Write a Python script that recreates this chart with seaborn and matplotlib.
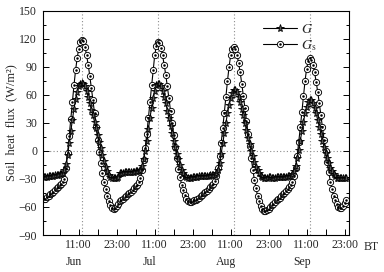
"""Soil heat flux diurnal cycles, Jun-Sep: measured G vs surface Gs."""

import numpy as np
import pandas as pd
import matplotlib

matplotlib.use("Agg")
import matplotlib.pyplot as plt  # noqa: E402
import matplotlib.transforms as mtransforms  # noqa: E402
import seaborn as sns  # noqa: E402
from matplotlib.lines import Line2D  # noqa: E402
from matplotlib.ticker import FixedLocator, MultipleLocator  # noqa: E402

MONTHS = ["Jun", "Jul", "Aug", "Sep"]
TICK_TEXT = ["11:00", "23:00"]

# half-hourly composite day per month (W/m2), rows = 0-5.5h, 6-11.5h, 12-17.5h, 18-23.5h
GS_JUN = [-52, -51, -49.5, -48, -46.5, -45, -43.5, -42, -40, -38.5, -37, -35,
          -33, -30, -18, -2, 16, 34, 52, 70, 86, 99, 109, 116,
          119, 117, 111, 102, 92, 80, 67, 54, 40, 26, 12, -1,
          -13, -24, -33, -41, -48, -54, -58, -61, -62, -61, -59, -57]
G_JUN = [-28, -28, -27.5, -27, -27, -26.5, -26.5, -26, -26, -25.5, -25, -24.5,
         -24, -21, -14, -4, 8, 21, 33, 45, 55, 63, 69, 72,
         73, 72, 69, 64, 58, 51, 44, 38, 31, 24, 17, 10,
         3, -4, -11, -17, -22, -25.5, -27.5, -28.5, -29, -29, -28.5, -28]

GS_JUL = [-54, -52.5, -51, -49.5, -48, -46.5, -45, -43.5, -42, -40, -38, -36,
          -33, -29, -21, -10, 3, 18, 35, 52, 70, 87, 102, 112,
          116, 115, 110, 102, 92, 81, 69, 56, 43, 30, 17, 4,
          -8, -19, -28, -36, -42, -47, -51, -54, -55, -55, -54, -53]
G_JUL = [-23.5, -23.5, -23.5, -23, -23, -23, -23, -22.5, -22.5, -22.5, -22, -22,
         -22, -20, -16, -9, 0, 11, 23, 35, 46, 56, 64, 70,
         72, 72, 69, 64, 58, 51, 43, 35, 27, 19, 11, 4,
         -3, -9, -15, -20, -24, -27, -28, -29, -29, -28.5, -28, -28]

GS_AUG = [-53, -51.5, -50, -48.5, -47, -45.5, -44, -42.5, -41, -39, -37, -35,
          -32, -27, -18, -6, 8, 24, 41, 58, 75, 90, 102, 109,
          111, 109, 103, 94, 84, 72, 59, 46, 32, 18, 5, -8,
          -20, -31, -40, -48, -54, -59, -62, -64, -64, -63, -62, -60]
G_AUG = [-27.5, -27.5, -27, -27, -27, -27, -26.5, -26.5, -26.5, -26, -26, -26,
         -25.5, -24, -21, -13, -3, 8, 19, 30, 40, 49, 57, 62,
         65, 65, 63, 58, 52, 45, 38, 30, 22, 14, 7, 0,
         -6, -12, -17, -21, -24, -26.5, -28, -29, -29, -28.5, -28, -28]

GS_SEP = [-58, -56.5, -55, -53, -51.5, -50, -48, -46.5, -45, -43, -41, -39,
          -36.5, -33, -27, -18, -6, 9, 25, 42, 59, 75, 88, 96,
          99, 97, 92, 84, 74, 63, 51, 38, 25, 12, 0, -12,
          -23, -33, -41, -48, -53, -57, -60, -61, -61, -59, -56, -53]
G_SEP = [-28.5, -28.5, -28.5, -28, -28, -28, -28, -27.5, -27.5, -27.5, -27, -27,
         -27, -25, -22, -16, -8, 1, 11, 21, 31, 40, 47, 52,
         54, 54, 51, 46, 40, 33, 26, 18, 11, 4, -2, -8,
         -13, -18, -22, -25, -27, -28.5, -29, -29.5, -29.5, -29.5, -29.5, -29.5]


def main() -> None:
    gs = np.concatenate([GS_JUN, GS_JUL, GS_AUG, GS_SEP])
    g = np.concatenate([G_JUN, G_JUL, G_AUG, G_SEP])
    df = pd.DataFrame({"hour": np.arange(len(g)) * 0.5, "G": g, "Gs": gs})

    sns.set_theme(style="ticks")
    plt.rcParams["font.family"] = ["Liberation Serif", "DejaVu Serif"]
    plt.rcParams["mathtext.fontset"] = "stix"
    plt.rcParams["axes.linewidth"] = 0.8

    fig = plt.figure(figsize=(3.84, 2.72), dpi=100)
    ax = fig.add_axes([0.111, 0.136, 0.798, 0.825])

    # reference lines at noon and zero flux
    for i in range(len(MONTHS)):
        ax.axvline(12 + 24 * i, color="0.55", ls=(0, (1, 2)), lw=0.8, zorder=0)
    ax.axhline(0, color="0.55", ls=(0, (1, 2)), lw=0.8, zorder=0)

    sty_gs = dict(color="black", lw=0.8, marker="o", ms=4.5, mfc="white", mec="black", mew=0.65)
    sty_g = dict(color="black", lw=0.8, marker="*", ms=5.8, mfc="0.35", mec="black", mew=0.6)
    sns.lineplot(data=df, x="hour", y="Gs", ax=ax, **sty_gs)
    ax.plot(df["hour"], df["Gs"], ls="none", marker=".", ms=1.6, color="black")
    sns.lineplot(data=df, x="hour", y="G", ax=ax, **sty_g)

    h_g = Line2D([], [], **sty_g)
    h_gs = (Line2D([], [], **sty_gs), Line2D([], [], ls="none", marker=".", ms=1.6, color="black"))
    ax.legend([h_g, h_gs], [r"$G$", r"$G_\mathrm{s}$"], loc="upper left",
              bbox_to_anchor=(0.68, 1.0), frameon=False, fontsize=10,
              handlelength=2.4, handletextpad=0.3, labelspacing=0.15)

    ax.set_xlim(-0.4, 96.4)
    ax.set_ylim(-90, 150)
    ax.yaxis.set_major_locator(MultipleLocator(30))
    ax.yaxis.set_minor_locator(MultipleLocator(15))
    major = [11 + 12 * k for k in range(8)]
    ax.xaxis.set_major_locator(FixedLocator(major))
    ax.xaxis.set_minor_locator(FixedLocator([m - 6 for m in major]))
    ax.set_xticklabels([TICK_TEXT[k % 2] for k in range(8)])

    ax.tick_params(which="both", direction="in", top=False, right=True,
                   labelsize=8.5, width=0.7, color="black")
    ax.tick_params(axis="y", which="major", length=4, pad=4)
    ax.tick_params(axis="y", which="minor", length=2)
    ax.tick_params(axis="x", which="both", length=4, pad=3)
    for s in ax.spines.values():
        s.set_color("black")

    ax.set_xlabel("")
    ax.set_ylabel("Soil  heat  flux  (W/m\u00b2)", fontsize=9, labelpad=1)

    trans = mtransforms.blended_transform_factory(ax.transData, ax.transAxes)
    for i, m in enumerate(MONTHS):
        ax.text(9.5 + 24 * i, -0.119, m, transform=trans, ha="center", va="center", fontsize=8.5)
    ax.text(1.072, -0.052, "BT", transform=ax.transAxes, ha="center", va="center", fontsize=8.5)

    fig.savefig("out.png", dpi=100)


if __name__ == "__main__":
    main()
